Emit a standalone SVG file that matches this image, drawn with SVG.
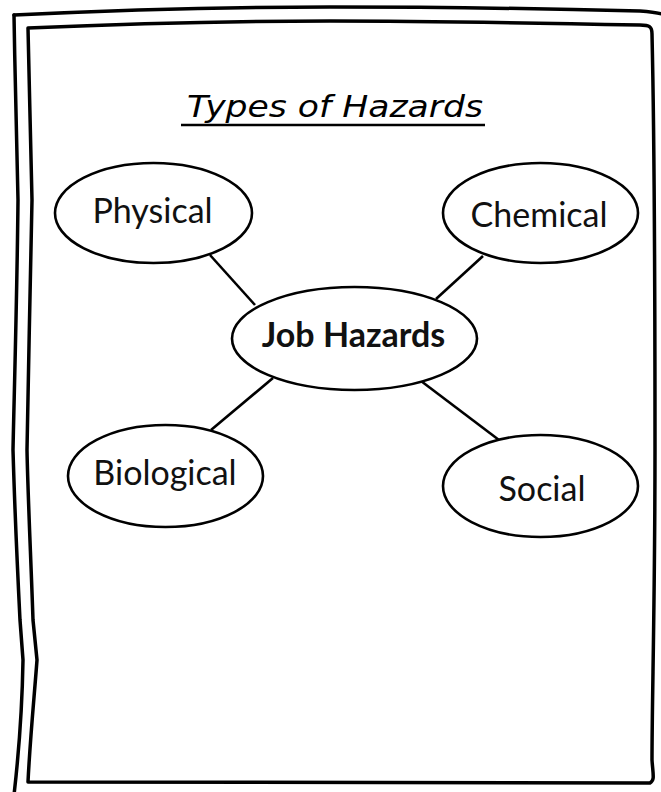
<svg xmlns="http://www.w3.org/2000/svg" width="661" height="792" viewBox="0 0 661 792">
<style>
.frame{fill:none;stroke:#000;stroke-width:3.5;stroke-linejoin:round;stroke-linecap:round}
.node{fill:#fff;stroke:#000;stroke-width:2.6}
.lbl{font-family:Lato,"Open Sans","Liberation Sans",sans-serif;font-size:34px;fill:#111;text-anchor:middle}
.edge{stroke:#000;stroke-width:2.6;fill:none}
.title{font-family:"DejaVu Sans","Liberation Sans",sans-serif;font-style:italic;font-size:30px;fill:#000}
</style>
<rect width="661" height="792" fill="#fff"/>
<g id="frame">
<path class="frame" d="M14,15 C120,10 240,7 330,7 C440,7 560,9 640,11 C652,12 658,13 662,14"/>
<path class="frame" d="M14,15 C15,80 17,150 18,200 C17,300 14,400 13,450 C15,520 18,580 20,620 L23,660 C22,720 18,760 14,795"/>
<path class="frame" d="M28,28 C120,24 240,21 330,21 C430,21 540,23 640,25 C650,25 652,27 652,34 C654,120 655,300 655,450 C655,600 652,700 652,760 C653,775 655,780 650,783 C500,783 300,782 28,782 C30,740 34,700 37,660 L33,620 C31,560 28,500 27,450 C28,380 31,260 32,200 C31,150 29,80 28,28 Z"/>
</g>
<g id="title">
<text class="title" x="187" y="117" textLength="296" lengthAdjust="spacingAndGlyphs">Types of Hazards</text>
<line x1="181" y1="125" x2="485" y2="125" stroke="#000" stroke-width="2.5"/>
</g>
<g id="connectors">
<line class="edge" x1="210" y1="255" x2="255" y2="305"/>
<line class="edge" x1="483" y1="256" x2="436" y2="299"/>
<line class="edge" x1="273" y1="378" x2="211" y2="430"/>
<line class="edge" x1="421" y1="381" x2="499" y2="440"/>
</g>
<g id="node-job">
<ellipse class="node" cx="354.5" cy="338.5" rx="122.5" ry="51.5"/>
<text class="lbl" x="353.5" y="347" font-weight="bold">Job Hazards</text>
</g>
<g id="node-physical">
<ellipse class="node" cx="153.5" cy="213" rx="98.5" ry="50"/>
<text class="lbl" x="152.5" y="223">Physical</text>
</g>
<g id="node-chemical">
<ellipse class="node" cx="540.5" cy="213" rx="97.5" ry="50"/>
<text class="lbl" x="539" y="227">Chemical</text>
</g>
<g id="node-biological">
<ellipse class="node" cx="165.5" cy="476" rx="97.5" ry="51"/>
<text class="lbl" x="165" y="485">Biological</text>
</g>
<g id="node-social">
<ellipse class="node" cx="540.5" cy="486" rx="97.5" ry="51"/>
<text class="lbl" x="542" y="501">Social</text>
</g>
</svg>
